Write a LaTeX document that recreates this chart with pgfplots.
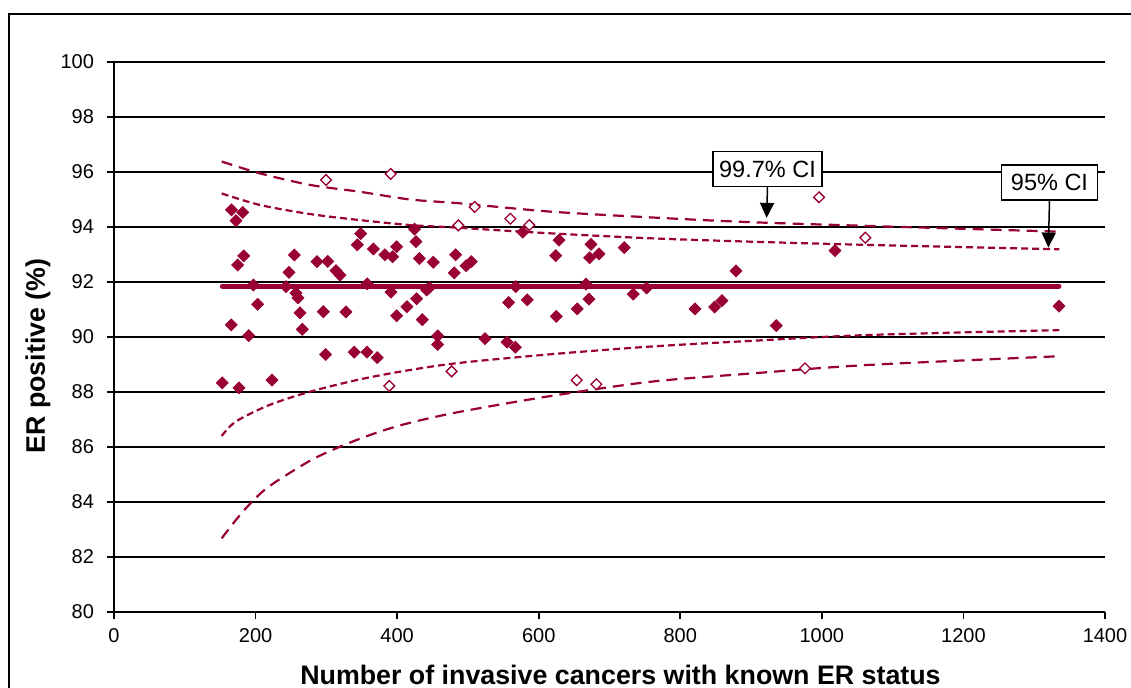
\documentclass[border=0pt]{standalone}
\usepackage{fontspec}
\setmainfont{Liberation Sans}
\usepackage{pgfplots}
\pgfplotsset{compat=1.18}
\usetikzlibrary{arrows.meta}
\definecolor{erred}{RGB}{153,0,51}

\begin{document}
\begin{tikzpicture}[x=1pt,y=1pt]
\useasboundingbox (0,0) rectangle (565.5,344);
% outer chart frame
\draw[line width=1pt] (4.5,-20) -- (4.5,337) -- (600,337);
\begin{axis}[
  at={(57pt,38pt)}, anchor=south west,
  scale only axis, width=495.5pt, height=275pt,
  xmin=0, xmax=1400, ymin=80, ymax=100,
  xtick={0,200,...,1400}, ytick={80,82,...,100},
  axis x line*=bottom, axis y line*=left,
  axis line style={line width=1pt,black,-},
  ymajorgrids, grid style={line width=1pt,black},
  tick align=outside, major tick length=3.5pt,
  tick style={line width=0.8pt,black},
  tick label style={font=\fontsize{10}{12}\selectfont},
  yticklabel style={xshift=-3pt},
  xticklabel style={yshift=-1pt},
  /pgf/number format/assume math mode=true,
  /pgf/number format/1000 sep={},
  xlabel={Number of invasive cancers with known ER status},
  ylabel={ER positive (\%)},
  label style={font=\bfseries\fontsize{13.4}{15}\selectfont},
  xlabel style={at={(axis description cs:0.5111,-0.1145)}, anchor=center},
  ylabel style={at={(axis description cs:-0.0767,0.4655)}, anchor=center},
  clip=false,
]
% 99.7% control limits
\addplot[erred, line width=1.1pt, dash pattern=on 5.5pt off 3.5pt, smooth] coordinates {
(152.2,96.38) (206.2,95.95) (276.9,95.53) (347.5,95.28) (418.2,95.00) (488.8,94.86)
(616,94.56) (757.2,94.35) (893.8,94.18) (1063.3,94.04) (1335.5,93.83)};
\addplot[erred, line width=1.1pt, dash pattern=on 5.5pt off 3.5pt, smooth] coordinates {
(152.2,82.68) (173.3,83.38) (192.1,83.93) (218.8,84.56) (276.9,85.50) (323.9,86.06)
(371,86.52) (418.2,86.88) (488.8,87.28) (616,87.85) (757.2,88.37) (893.8,88.66)
(1063.3,88.98) (1335.5,89.30)};
% 95% control limits
\addplot[erred, line width=1.1pt, dash pattern=on 3.5pt off 2pt, smooth] coordinates {
(152.2,95.22) (206.2,94.80) (276.9,94.47) (347.5,94.25) (418.2,94.07) (474.7,93.99)
(616,93.77) (757.2,93.59) (893.8,93.47) (1063.3,93.35) (1335.5,93.19)};
\addplot[erred, line width=1.1pt, dash pattern=on 3.5pt off 2pt, smooth] coordinates {
(152.2,86.40) (171.8,86.92) (218.8,87.52) (276.9,88.01) (347.5,88.46) (418.2,88.80)
(488.8,89.06) (616,89.37) (757.2,89.65) (893.8,89.85) (1063.3,90.07) (1335.5,90.25)};
% overall mean
\addplot[erred, line width=2.5pt, line cap=round] coordinates {(153,91.85) (1335,91.85)};
% units within the 99.7% limits
\addplot[only marks, mark=square*, mark size=2.1pt,
  mark options={rotate=45, fill=erred, draw=erred}] coordinates {
(166,94.62) (181.8,94.53) (172.3,94.23) (183.2,92.95) (174.7,92.62) (196.8,91.89)
(203,91.19) (165.7,90.44) (190.3,90.05) (153,88.33) (176.6,88.15) (223.2,88.43)
(254.7,92.98) (247.2,92.35) (243,91.83) (257,91.60) (260,91.42) (262.8,90.88)
(266,90.28) (286.8,92.74) (301.9,92.75) (313.6,92.41) (319.3,92.25) (295.7,90.92)
(299,89.36) (348.5,93.76) (343.8,93.35) (366.4,93.20) (399.3,93.28) (382.8,92.99)
(393.6,92.92) (424.6,93.92) (426.6,93.47) (431.4,92.85) (451.1,92.72) (482.7,92.99)
(480.7,92.33) (497.3,92.59) (504.8,92.74) (577.4,93.81) (357.8,91.93) (391.3,91.63)
(441.7,91.71) (445.4,91.79) (427.5,91.39) (413.9,91.10) (399.3,90.77) (435.6,90.63)
(327.7,90.91) (567.5,91.83) (557.5,91.25) (583.9,91.35) (457.2,90.04) (457.2,89.73)
(524.2,89.94) (555.2,89.81) (567,89.63) (339.4,89.45) (357.4,89.45) (371.9,89.25)
(628.7,93.52) (624,92.96) (673.9,93.37) (672,92.88) (685.2,93.02) (720.9,93.25)
(666.8,91.92) (624.8,90.75) (654.5,91.02) (671,91.38) (733.6,91.56) (752.4,91.78)
(820.8,91.02) (848.6,91.09) (858.9,91.32) (878.7,92.40) (935.6,90.41) (1018.6,93.14)
(1335,91.12)};
% units outside the 95% limits
\addplot[only marks, mark=square*, mark size=1.9pt,
  mark options={rotate=45, fill=white, draw=erred, line width=0.65pt}] coordinates {
(299.5,95.71) (390.9,95.93) (509.5,94.73) (486.5,94.06) (559.9,94.30) (586.7,94.07)
(996,95.08) (1061.4,93.61) (477,88.75) (388.9,88.22) (653.6,88.43) (681.4,88.28)
(976.2,88.86)};
% callouts
\node[draw, fill=white, line width=0.75pt, font=\fontsize{11.75}{14}\selectfont,
  minimum width=54.5pt, minimum height=17.5pt, inner sep=1pt] (b1) at (axis cs:923.2,96.11) {99.7\% CI};
\draw[-{Triangle[width=7pt,length=7.5pt]}, line width=0.75pt] (b1.south) -- (axis cs:922,94.33);
\node[draw, fill=white, line width=0.75pt, font=\fontsize{11.75}{14}\selectfont,
  minimum width=48pt, minimum height=17.5pt, inner sep=1pt] (b2) at (axis cs:1321.6,95.62) {95\% CI};
\draw[-{Triangle[width=7pt,length=7.5pt]}, line width=0.75pt] (b2.south) -- (axis cs:1320,93.25);
\end{axis}
\end{tikzpicture}
\end{document}
